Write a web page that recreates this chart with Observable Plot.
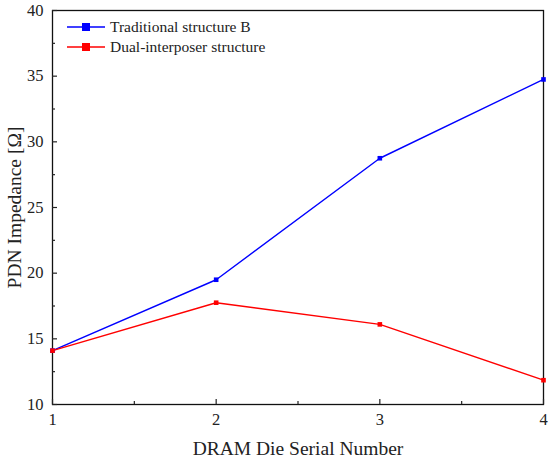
<!DOCTYPE html>
<html><head><meta charset="utf-8">
<script src="https://cdn.jsdelivr.net/npm/d3@7"></script>
<script src="https://cdn.jsdelivr.net/npm/@observablehq/plot@0.6"></script>
<style>
body{margin:0;background:#fff;}
#wrap{position:relative;width:550px;height:463px;font-family:"Liberation Serif","Times New Roman",serif;}
#legend{position:absolute;left:66px;top:17px;font-size:15.5px;line-height:20px;color:#222;}
#legend div{display:flex;align-items:center;height:20px;}
#legend svg{margin-right:4px;}
</style></head>
<body><div id="wrap"><div id="legend"></div></div>
<script>
const dies = [1, 2, 3, 4];
const seriesNames = ["Traditional structure B", "Dual-interposer structure"];
const seriesColors = ["#0000ff", "#ff0000"];
const traditionalB = [14.1, 19.5, 28.75, 34.75];
const dualInterposer = [14.1, 17.75, 16.1, 11.85];
const xTicks = [1, 2, 3, 4];
const xMinor = [1.5, 2.5, 3.5];
const yTicks = [10, 15, 20, 25, 30, 35, 40];
const yMinor = [12.5, 17.5, 22.5, 27.5, 32.5, 37.5];

const rows = [];
dies.forEach((d, i) => {
  rows.push({die: d, value: traditionalB[i], series: seriesNames[0]});
});
dies.forEach((d, i) => {
  rows.push({die: d, value: dualInterposer[i], series: seriesNames[1]});
});

const blank = () => "";
const chart = Plot.plot({
  width: 550, height: 463,
  marginLeft: 52, marginTop: 10, marginRight: 7, marginBottom: 59,
  style: {fontFamily: '"Liberation Serif","Times New Roman",serif', fontSize: "16px", color: "#222", background: "#fff"},
  x: {domain: [1, 4]},
  y: {domain: [10, 40]},
  color: {domain: seriesNames, range: seriesColors},
  marks: [
    Plot.frame({stroke: "#111", strokeWidth: 1.3}),
    Plot.line(rows, {x: "die", y: "value", z: "series", stroke: "series", strokeWidth: 1.4}),
    Plot.dot(rows, {x: "die", y: "value", fill: "series", symbol: "square", r: 2.6}),
    Plot.axisX({ticks: xTicks, tickSize: -5, tickFormat: blank, label: null, strokeWidth: 1.2}),
    Plot.axisX({ticks: xMinor, tickSize: -3, tickFormat: blank, label: null, strokeWidth: 1.2}),
    Plot.axisX({ticks: xTicks, tickSize: 0, tickPadding: 9, tickFormat: d3.format("d"),
      label: "DRAM Die Serial Number", labelAnchor: "center", labelArrow: "none", labelOffset: 50}),
    Plot.axisY({ticks: yTicks, tickSize: -5, tickFormat: blank, label: null, strokeWidth: 1.2}),
    Plot.axisY({ticks: yMinor, tickSize: -3, tickFormat: blank, label: null, strokeWidth: 1.2}),
    Plot.axisY({ticks: yTicks, tickSize: 0, tickPadding: 9, tickFormat: d3.format("d"),
      label: "PDN Impedance [Ω]", labelAnchor: "center", labelArrow: "none", labelOffset: 45})
  ]
});
chart.querySelectorAll('[aria-label="x-axis tick label"] text, [aria-label="y-axis tick label"] text').forEach(t => t.style.fontSize = "16.5px");
chart.querySelectorAll('[aria-label="x-axis label"] text, [aria-label="y-axis label"] text').forEach(t => t.style.fontSize = "19.5px");
document.getElementById("wrap").appendChild(chart);

const legend = document.getElementById("legend");
seriesNames.forEach((name, i) => {
  const row = document.createElement("div");
  row.innerHTML = `<svg width="40" height="12"><line x1="1" y1="6" x2="39" y2="6" stroke="${seriesColors[i]}" stroke-width="1.4"/><rect x="16" y="2" width="8" height="8" fill="${seriesColors[i]}"/></svg><span>${name}</span>`;
  legend.appendChild(row);
});
</script>
</body></html>
